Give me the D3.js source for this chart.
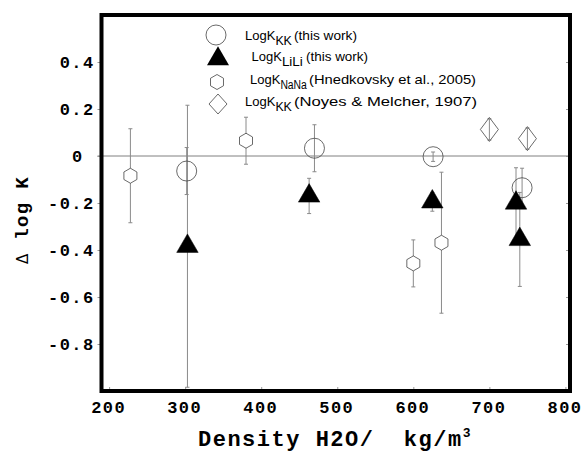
<!DOCTYPE html>
<html><head><meta charset="utf-8">
<script src="https://cdn.jsdelivr.net/npm/d3@7"></script>
<style>
body{margin:0;background:#fff;}
svg{display:block;}
</style></head>
<body>
<script>
// Data
const kkThisX   = [302, 470, 626, 743];
const kkThisY   = [-0.064, 0.033, -0.003, -0.135];
const kkThisErr = [0.10, 0.10, 0.02, 0.083];

const liliX   = [303, 463, 625, 735, 740];
const liliY   = [-0.384, -0.17, -0.195, -0.20, -0.355];
const liliErr = [0.60, 0.075, 0.04, 0.15, 0.20];

const nanaX   = [228, 380, 600, 637];
const nanaY   = [-0.084, 0.065, -0.457, -0.369];
const nanaErr = [0.20, 0.10, 0.10, 0.30];

const noyesX   = [700, 750];
const noyesY   = [0.113, 0.074];
const noyesErr = [0.045, 0.045];

const xTicks = [200, 300, 400, 500, 600, 700, 800];
const yTicks = [-0.8, -0.6, -0.4, -0.2, 0, 0.2, 0.4];

const W = 582, H = 453;
const pLeft = 101.5, pRight = 570, pTop = 15, pBottom = 391;

const svg = d3.select("body").append("svg").attr("width", W).attr("height", H);
const x = d3.scaleLinear().domain([190, 806]).range([pLeft, pRight]);
const y = d3.scaleLinear().domain([-1, 0.6]).range([pBottom, pTop]);

const mono = "'Liberation Mono','Courier New',monospace";
const sans = "'Liberation Sans',Arial,sans-serif";

// zero line
svg.append("line").attr("x1", pLeft - 4).attr("x2", pRight).attr("y1", y(0)).attr("y2", y(0))
  .attr("stroke", "#808080").attr("stroke-width", 1);

// axes
const gx = svg.append("g").attr("transform", `translate(0,${pBottom})`)
  .call(d3.axisBottom(x).tickValues(xTicks).tickSize(-4).tickFormat(d3.format("d")));
gx.select(".domain").remove();
gx.selectAll(".tick line").attr("stroke", "#999");
gx.selectAll(".tick text").attr("y", 22).attr("dy", 0).attr("dx", -1)
  .attr("font-family", mono).attr("font-weight", "bold").attr("font-size", 17)
  .attr("letter-spacing", 1.4).attr("fill", "#000");

const gy = svg.append("g").attr("transform", `translate(${pLeft},0)`)
  .call(d3.axisLeft(y).tickValues(yTicks).tickSize(4)
    .tickFormat(d => d === 0 ? "0" : d3.format(".1f")(d).replace("\u2212", "-")));
gy.select(".domain").remove();
gy.selectAll(".tick line").attr("stroke", "#999");
gy.selectAll(".tick text").attr("x", d => d === 0 ? -18 : -7).attr("dy", "0.35em")
  .attr("font-family", mono).attr("font-weight", "bold").attr("font-size", 17)
  .attr("letter-spacing", 1.4).attr("fill", "#000");

const gr = svg.append("g").attr("transform", `translate(${pRight},0)`)
  .call(d3.axisRight(y).tickValues(yTicks).tickSize(-4).tickFormat(""));
gr.select(".domain").remove();
gr.selectAll(".tick line").attr("stroke", "#999");

// frame
svg.append("rect").attr("x", pLeft).attr("y", pTop).attr("width", pRight - pLeft).attr("height", pBottom - pTop)
  .attr("fill", "none").attr("stroke", "#000").attr("stroke-width", 4);

// axis titles
const xt = svg.append("text").attr("x", 335).attr("y", 446).attr("text-anchor", "middle")
  .attr("font-family", mono).attr("font-weight", "bold").attr("font-size", 22)
  .attr("letter-spacing", 1.5).style("white-space", "pre").attr("fill", "#000");
xt.append("tspan").text("Density H2O/  kg/m");
xt.append("tspan").attr("font-size", 13).attr("dy", -9).text("3");

const yt = svg.append("text").attr("transform", "translate(28,220) rotate(-90)")
  .attr("text-anchor", "middle").attr("font-family", mono).attr("font-weight", "bold")
  .attr("font-size", 19).attr("letter-spacing", 1.3).attr("fill", "#000");
yt.append("tspan").attr("font-family", "'DejaVu Sans',sans-serif").attr("font-weight", "normal").attr("font-size", 15).text("Δ");
yt.append("tspan").text(" log K");

// marker shapes
const hexPath = r => { const p = d3.range(6).map(i => { const a = Math.PI / 3 * i - Math.PI / 2; return [r * Math.cos(a), r * Math.sin(a)]; }); return "M" + p.join("L") + "Z"; };
const triPath = (w, h) => `M0,${-2 * h / 3}L${w / 2},${h / 3}L${-w / 2},${h / 3}Z`;
const diaPath = (w, h) => `M0,${-h / 2}L${w / 2},0L0,${h / 2}L${-w / 2},0Z`;

// error bars
function errBars(xs, ys, es) {
  const g = svg.append("g").attr("stroke", "#8a8a8a").attr("stroke-width", 1);
  xs.forEach((xv, i) => {
    const x0 = x(xv), y1 = y(ys[i] + es[i]), y2 = y(ys[i] - es[i]);
    g.append("line").attr("x1", x0).attr("x2", x0).attr("y1", y1).attr("y2", y2);
    g.append("line").attr("x1", x0 - 2).attr("x2", x0 + 2).attr("y1", y1).attr("y2", y1);
    g.append("line").attr("x1", x0 - 2).attr("x2", x0 + 2).attr("y1", y2).attr("y2", y2);
  });
}
errBars(nanaX, nanaY, nanaErr);
errBars(kkThisX, kkThisY, kkThisErr);
errBars(noyesX, noyesY, noyesErr);
errBars(liliX, liliY, liliErr);

const mk = "#444";
svg.append("g").selectAll("path").data(nanaX).join("path")
  .attr("d", hexPath(7.5)).attr("transform", (d, i) => `translate(${x(d)},${y(nanaY[i])})`)
  .attr("fill", "#fff").attr("stroke", mk).attr("stroke-width", 0.8);
svg.append("g").selectAll("circle").data(kkThisX).join("circle")
  .attr("cx", d => x(d)).attr("cy", (d, i) => y(kkThisY[i])).attr("r", 10)
  .attr("fill", "none").attr("stroke", mk).attr("stroke-width", 0.8);
svg.append("g").selectAll("path").data(noyesX).join("path")
  .attr("d", diaPath(18, 24)).attr("transform", (d, i) => `translate(${x(d)},${y(noyesY[i])})`)
  .attr("fill", "none").attr("stroke", mk).attr("stroke-width", 0.8);
svg.append("g").selectAll("path").data(liliX).join("path")
  .attr("d", triPath(21.5, 18.5)).attr("transform", (d, i) => `translate(${x(d)},${y(liliY[i])})`)
  .attr("fill", "#000").attr("stroke", "#000").attr("stroke-width", 0.5);

// legend
const legRows = [
  {shape: "circle", mx: 216, my: 35, tx: 245, ty: 40, sub: "KK", sw: 16.5, rx: 294, rw: 63, rest: "(this work)"},
  {shape: "tri", mx: 218, my: 57, tx: 251.5, ty: 61, sub: "LiLi", sw: 21, rx: 306, rw: 62, rest: "(this work)"},
  {shape: "hex", mx: 217, my: 82, tx: 250, ty: 84, sub: "NaNa", sw: 26.5, rx: 309, rw: 167, rest: "(Hnedkovsky et al., 2005)"},
  {shape: "dia", mx: 218, my: 104, tx: 245, ty: 106, sub: "KK", sw: 16.5, rx: 294, rw: 183, rest: "(Noyes & Melcher, 1907)"}
];
const lg = svg.append("g");
legRows.forEach(r => {
  if (r.shape === "circle") lg.append("circle").attr("cx", r.mx).attr("cy", r.my).attr("r", 10).attr("fill", "none").attr("stroke", mk).attr("stroke-width", 0.8);
  if (r.shape === "tri") lg.append("path").attr("d", triPath(22, 19)).attr("transform", `translate(${r.mx},${r.my + 2})`).attr("fill", "#000");
  if (r.shape === "hex") lg.append("path").attr("d", hexPath(7.5)).attr("transform", `translate(${r.mx},${r.my})`).attr("fill", "#fff").attr("stroke", mk).attr("stroke-width", 0.8);
  if (r.shape === "dia") lg.append("path").attr("d", diaPath(18, 20)).attr("transform", `translate(${r.mx},${r.my})`).attr("fill", "none").attr("stroke", mk).attr("stroke-width", 0.8);
  const t = lg.append("text").attr("x", r.tx).attr("y", r.ty).attr("font-family", sans)
    .attr("font-size", 13).attr("fill", "#000");
  t.append("tspan").text("LogK");
  t.append("tspan").attr("dy", 5).attr("font-size", 12)
    .attr("textLength", r.sw).attr("lengthAdjust", "spacingAndGlyphs").text(r.sub);
  t.append("tspan").attr("x", r.rx).attr("dy", -5).attr("font-size", 13)
    .attr("textLength", r.rw).attr("lengthAdjust", "spacingAndGlyphs").text(r.rest);
});
</script>
</body></html>
